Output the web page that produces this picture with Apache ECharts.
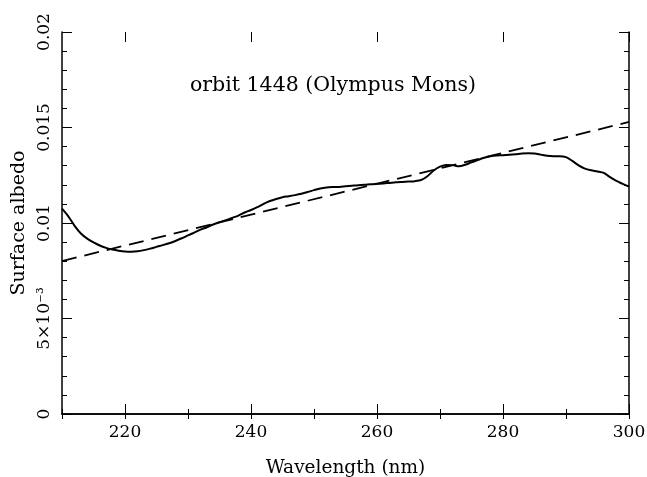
<!DOCTYPE html>
<html>
<head>
<meta charset="utf-8">
<script src="https://cdn.jsdelivr.net/npm/echarts@6/dist/echarts.min.js"></script>
<style>
html,body{margin:0;padding:0;background:#fff;}
#chart{width:647px;height:477px;}
</style>
</head>
<body>
<div id="chart"></div>
<script>
// ---- data ----
var wavelengths = [210,211,212,213,214,215,216,217,218,219,220,221,222,223,224,225,226,227,228,229,
  230,231,232,233,234,235,236,237,238,239,240,241,242,243,244,245,246,247,248,249,
  250,251,252,253,254,255,256,257,258,259,260,261,262,263,264,265,266,267,268,269,
  270,271,272,273,274,275,276,277,278,279,280,281,282,283,284,285,286,287,288,289,
  290,291,292,293,294,295,296,297,298,299,300];
var albedo = [0.01075,0.01035,0.00985,0.00945,0.00918,0.00898,0.00882,0.00870,0.00861,0.00855,
  0.00851,0.00850,0.00852,0.00858,0.00866,0.00875,0.00884,0.00894,0.00906,0.00920,
  0.00935,0.00950,0.00965,0.00978,0.00992,0.01004,0.01015,0.01027,0.01039,0.01055,
  0.01068,0.01083,0.01100,0.01115,0.01126,0.01135,0.01140,0.01146,0.01153,0.01162,
  0.01172,0.01181,0.01186,0.01188,0.01189,0.01192,0.01195,0.01198,0.01200,0.01203,
  0.01205,0.01207,0.01210,0.01213,0.01215,0.01217,0.01219,0.01225,0.01245,0.01275,
  0.01295,0.01304,0.01303,0.01297,0.01305,0.01318,0.01330,0.01342,0.01350,0.01354,
  0.01355,0.01357,0.01360,0.01364,0.01365,0.01364,0.01358,0.01352,0.01350,0.01350,
  0.01345,0.01325,0.01302,0.01285,0.01276,0.01270,0.01262,0.01240,0.01220,0.01205,0.01190];
var fitX = [210, 300];
var fitY = [0.00801, 0.01529];
var xMajorTicks = [220, 240, 260, 280, 300];
var yTickLabels = {"0":"0","0.005":"5×10⁻³","0.01":"0.01","0.015":"0.015","0.02":"0.02"};
var titleText = "orbit 1448 (Olympus Mons)";
var xName = "Wavelength (nm)";
var yName = "Surface albedo";

// ---- chart ----
var FONT = "DejaVu Serif";
var chart = echarts.init(document.getElementById('chart'), null, {renderer:'canvas'});
function pairs(xs, ys){ var out=[]; for(var i=0;i<xs.length;i++) out.push([xs[i], ys[i]]); return out; }
var lineStyleAxis = {color:'#000', width:1.5};
var gridRect = {left:62, right:18, top:32, bottom:63, containLabel:false, outerBoundsMode:'none'};

var option = {
  backgroundColor:'#fff',
  animation:false,
  title:{
    text:titleText, left:328, top:70, textAlign:'center',
    textStyle:{fontFamily:FONT, fontSize:20.5, fontWeight:'normal', color:'#000'}
  },
  grid:[Object.assign({}, gridRect), Object.assign({}, gridRect)],
  xAxis:[
    {gridIndex:0, type:'value', position:'bottom', min:210, max:300, interval:10,
     axisLine:{show:true, lineStyle:lineStyleAxis},
     axisTick:{show:true, inside:true, length:5, lineStyle:{color:'#000', width:1}},
     axisLabel:{show:true, customValues:xMajorTicks, margin:10, color:'#000', fontFamily:FONT, fontSize:17},
     splitLine:{show:false},
     name:xName, nameLocation:'middle', nameGap:45,
     nameTextStyle:{fontFamily:FONT, fontSize:18.5, color:'#000'}},
    {gridIndex:0, type:'value', position:'top', min:210, max:300, interval:10,
     axisLine:{show:true, lineStyle:lineStyleAxis},
     axisTick:{show:true, inside:true, length:5, lineStyle:{color:'#000', width:1}},
     axisLabel:{show:false}, splitLine:{show:false}},
    {gridIndex:1, type:'value', position:'bottom', min:210, max:300,
     axisLine:{show:false},
     axisTick:{show:true, inside:true, length:10, customValues:xMajorTicks, lineStyle:{color:'#000', width:1}},
     axisLabel:{show:false}, splitLine:{show:false}},
    {gridIndex:1, type:'value', position:'top', min:210, max:300,
     axisLine:{show:false},
     axisTick:{show:true, inside:true, length:10, customValues:xMajorTicks, lineStyle:{color:'#000', width:1}},
     axisLabel:{show:false}, splitLine:{show:false}}
  ],
  yAxis:[
    {gridIndex:0, type:'value', position:'left', min:0, max:0.02, interval:0.005,
     axisLine:{show:true, lineStyle:lineStyleAxis},
     axisTick:{show:true, inside:true, length:10, lineStyle:{color:'#000', width:1}},
     minorTick:{show:true, splitNumber:5, length:5, lineStyle:{color:'#000', width:1}},
     axisLabel:{show:true, rotate:90, margin:9, color:'#000', fontFamily:FONT, fontSize:17,
       formatter:function(v){ var k = String(+v.toFixed(4)); return yTickLabels[k] !== undefined ? yTickLabels[k] : k; }},
     splitLine:{show:false}, minorSplitLine:{show:false},
     name:yName, nameLocation:'middle', nameRotate:90, nameGap:32,
     nameTextStyle:{fontFamily:FONT, fontSize:19, color:'#000'}},
    {gridIndex:0, type:'value', position:'right', min:0, max:0.02, interval:0.005,
     axisLine:{show:true, lineStyle:lineStyleAxis},
     axisTick:{show:true, inside:true, length:10, lineStyle:{color:'#000', width:1}},
     minorTick:{show:true, splitNumber:5, length:5, lineStyle:{color:'#000', width:1}},
     axisLabel:{show:false}, splitLine:{show:false}},
    {gridIndex:1, type:'value', min:0, max:0.02, show:false}
  ],
  series:[
    {type:'line', name:'albedo', xAxisIndex:0, yAxisIndex:0, data:pairs(wavelengths, albedo),
     showSymbol:false, smooth:0.3, clip:true,
     lineStyle:{color:'#000', width:2}},
    {type:'line', name:'fit', xAxisIndex:0, yAxisIndex:0, data:pairs(fitX, fitY),
     showSymbol:false, clip:true,
     lineStyle:{color:'#000', width:1.8, type:[15,8]}}
  ]
};
chart.setOption(option);
</script>
</body>
</html>
